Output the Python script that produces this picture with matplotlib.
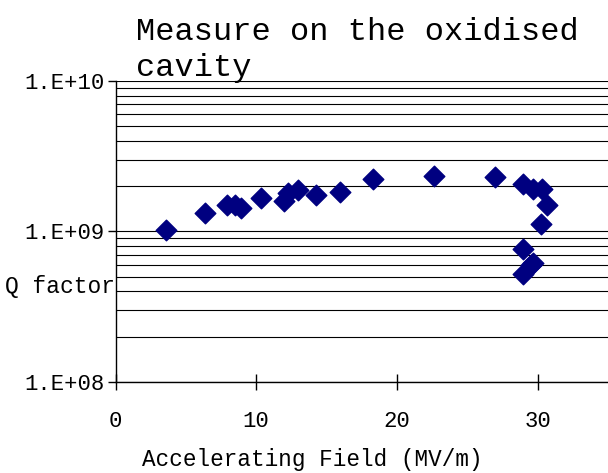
import matplotlib
matplotlib.use("Agg")
import matplotlib.pyplot as plt
from matplotlib.ticker import LogLocator, NullFormatter

# Data
field = [3.56, 6.37, 7.89, 8.48, 8.95, 10.37, 11.95, 12.26, 12.96, 14.22,
         15.92, 18.28, 22.66, 26.96, 28.99, 29.68, 30.34, 30.70, 30.22,
         28.99, 29.5, 29.68, 28.99]
qfactor = [1.02e9, 1.33e9, 1.49e9, 1.49e9, 1.44e9, 1.67e9, 1.59e9, 1.81e9,
           1.90e9, 1.76e9, 1.82e9, 2.24e9, 2.35e9, 2.30e9, 2.07e9, 1.93e9,
           1.93e9, 1.49e9, 1.12e9, 7.7e8, 6.0e8, 6.2e8, 5.23e8]
xticks = [0, 10, 20, 30]
yticks = [1e8, 1e9, 1e10]
yticklabels = ["1.E+08", "1.E+09", "1.E+10"]

plt.rcParams["font.family"] = ["Liberation Mono", "DejaVu Sans"]

fig = plt.figure(figsize=(6.08, 4.73), dpi=100)
ax = fig.add_axes([0.19, 0.1924, 0.81, 0.6364])

ax.scatter(field, qfactor, marker="D", s=110, color="#000080",
           edgecolor="#000080", linewidth=1, zorder=3)

ax.set_yscale("log")
ax.set_xlim(0, 35)
ax.set_ylim(1e8, 1e10)

# horizontal grid at every decade and sub-decade
ax.yaxis.set_minor_locator(LogLocator(base=10, subs=range(2, 10)))
ax.yaxis.set_minor_formatter(NullFormatter())
ax.grid(True, axis="y", which="both", color="black", linewidth=0.8)
ax.set_axisbelow(True)

ax.set_yticks(yticks)
ax.set_yticklabels(yticklabels)
ax.set_xticks(xticks)
ax.tick_params(axis="y", which="major", direction="out", length=6,
               width=1, pad=2, labelsize=16)
ax.tick_params(axis="y", which="minor", length=0)
ax.tick_params(axis="x", direction="inout", length=12, width=1,
               pad=15, labelsize=16)

for side in ["top", "right"]:
    ax.spines[side].set_visible(False)
for side in ["left", "bottom"]:
    ax.spines[side].set_color("black")
    ax.spines[side].set_linewidth(1)

fig.text(0.224, 0.965, "Measure on the oxidised\ncavity", ha="left",
         va="top", fontsize=23, linespacing=1.3)
fig.text(0.008, 1 - 287 / 473, "Q factor", ha="left", va="center",
         fontsize=16.5)
fig.text(312 / 608, 1 - 466 / 473, "Accelerating Field (MV/m)",
         ha="center", va="baseline", fontsize=16.3)

fig.savefig("out.png", dpi=100)
